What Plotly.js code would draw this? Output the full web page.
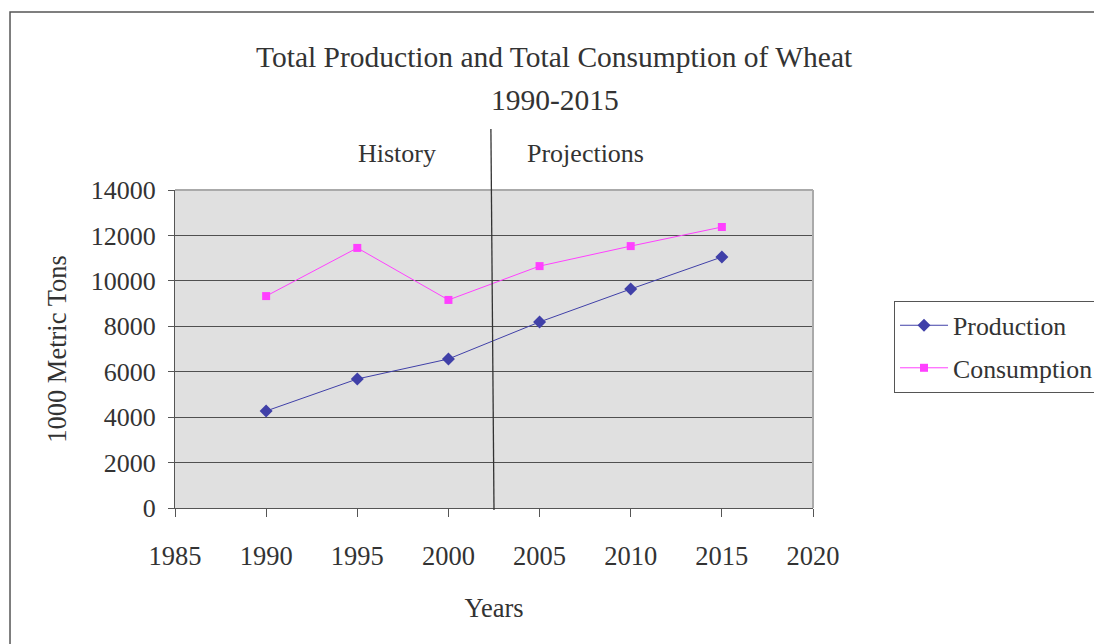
<!DOCTYPE html>
<html>
<head>
<meta charset="utf-8">
<script src="https://cdn.plot.ly/plotly-3.0.1.min.js"></script>
<style>
html,body{margin:0;padding:0;background:#fff;}
#chart{width:1094px;height:644px;}
</style>
</head>
<body>
<div id="chart"></div>
<script>
const years = [1990, 1995, 2000, 2005, 2010, 2015];
const production = [4270, 5680, 6560, 8190, 9640, 11050];
const consumption = [9330, 11450, 9160, 10650, 11530, 12370];
const seriesNames = ["Production", "Consumption"];
const titleLines = ["Total Production and Total Consumption of Wheat", "1990-2015"];
const periodLabels = ["History", "Projections"];
const dividerYear = [2002.33, 2002.5];

const font = '"Liberation Serif", "Times New Roman", serif';
const txt = "#333333";

const traces = [
  {x: years, y: production, name: seriesNames[0], type: "scatter", mode: "lines+markers",
   line: {color: "#4040a8", width: 1}, marker: {symbol: "diamond", size: 10, color: "#4040a8"},
   legendgroup: "a"},
  {x: years, y: consumption, name: seriesNames[1], type: "scatter", mode: "lines+markers",
   line: {color: "#ff40ff", width: 1}, marker: {symbol: "square", size: 8, color: "#ff40ff"},
   legendgroup: "b"}
];

const layout = {
  width: 1094, height: 644,
  margin: {l: 175, r: 281, t: 190, b: 136, autoexpand: false},
  paper_bgcolor: "#ffffff",
  plot_bgcolor: "#e0e0e0",
  font: {family: font, size: 26, color: txt},
  showlegend: true,
  legend: {x: 1.127, y: 0.651, xanchor: "left", yanchor: "top",
    bordercolor: "#555555", borderwidth: 1, bgcolor: "#ffffff", itemwidth: 48,
    font: {family: font, size: 25.8, color: txt}, tracegroupgap: 6, traceorder: "grouped"},
  xaxis: {range: [1985, 2020], dtick: 5, tick0: 1985, showgrid: false, zeroline: false,
    showline: true, linecolor: "#555555", linewidth: 1,
    ticks: "outside", ticklen: 8, tickcolor: "#555555",
    ticklabelstandoff: 16, tickformat: "d",
    tickfont: {family: font, size: 26.5, color: txt},
    title: {text: "Years", font: {family: font, size: 26.5, color: txt}, standoff: 28}},
  yaxis: {range: [0, 14000], dtick: 2000, showgrid: true, gridcolor: "#505050", gridwidth: 1,
    zeroline: false, showline: true, linecolor: "#555555", linewidth: 1,
    ticks: "outside", ticklen: 6, tickcolor: "#555555",
    ticklabelstandoff: 7, tickformat: "d",
    tickfont: {family: font, size: 26, color: txt},
    title: {text: "1000 Metric Tons", font: {family: font, size: 26.5, color: txt}, standoff: 16}},
  shapes: [
    {type: "line", xref: "paper", yref: "paper", x0: 0, x1: 1, y0: 1, y1: 1, line: {color: "#aaaaaa", width: 2}},
    {type: "line", xref: "paper", yref: "paper", x0: 1, x1: 1, y0: 0, y1: 1, line: {color: "#aaaaaa", width: 2}},
    {type: "line", xref: "x", yref: "paper", x0: dividerYear[0], x1: dividerYear[1], y0: 1.192, y1: -0.006,
     line: {color: "#333333", width: 1.3}},
    {type: "rect", xref: "paper", yref: "paper", x0: -0.2586, x1: 1.6, y0: 1.5597, y1: -0.6,
     line: {color: "#555555", width: 1.5}, fillcolor: "rgba(0,0,0,0)"}
  ],
  annotations: [
    {text: titleLines[0], xref: "paper", yref: "paper", x: 0.5956, y: 1.419, xanchor: "center", yanchor: "middle",
     showarrow: false, font: {family: font, size: 29.5, color: txt}},
    {text: titleLines[1], xref: "paper", yref: "paper", x: 0.5956, y: 1.2815, xanchor: "center", yanchor: "middle",
     showarrow: false, font: {family: font, size: 29.5, color: txt}},
    {text: periodLabels[0], xref: "paper", yref: "paper", x: 0.348, y: 1.116, xanchor: "center", yanchor: "middle",
     showarrow: false, font: {family: font, size: 26, color: txt}},
    {text: periodLabels[1], xref: "paper", yref: "paper", x: 0.643, y: 1.116, xanchor: "center", yanchor: "middle",
     showarrow: false, font: {family: font, size: 26, color: txt}}
  ]
};

Plotly.newPlot("chart", traces, layout, {displayModeBar: false, staticPlot: true});
</script>
</body>
</html>
